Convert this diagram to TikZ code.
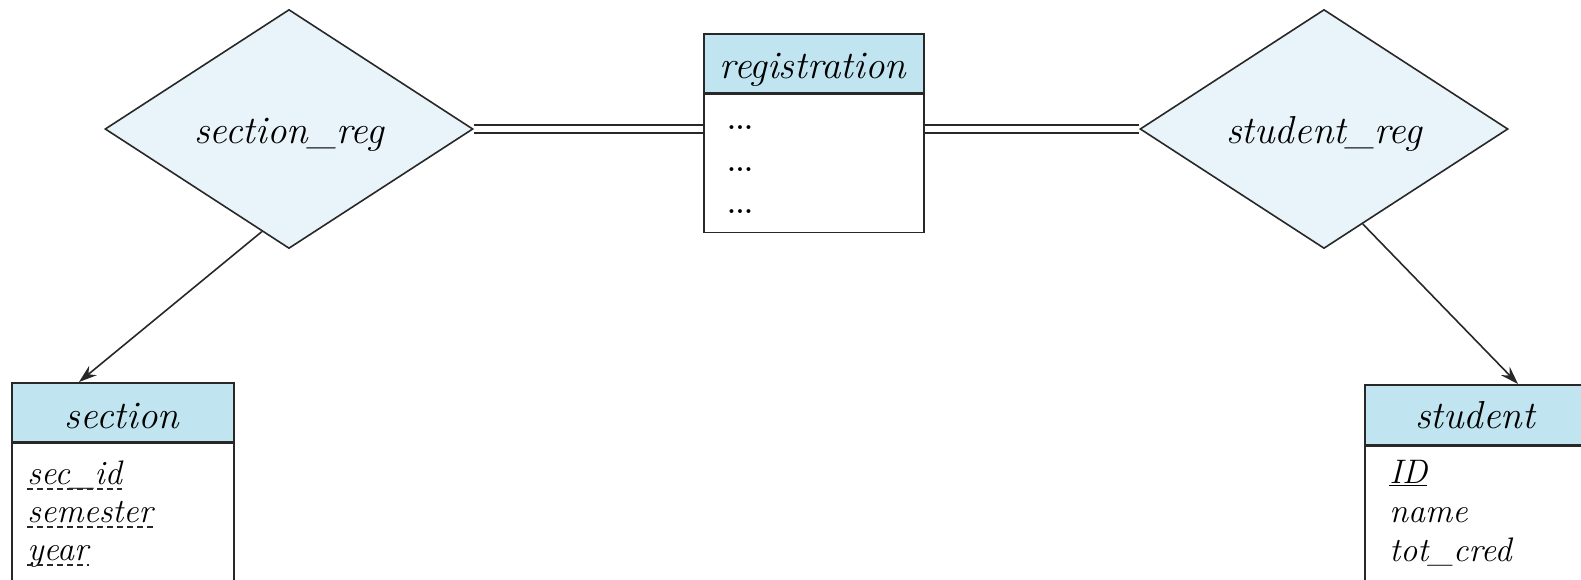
\documentclass[tikz,border=0pt]{standalone}
\usetikzlibrary{shapes.geometric,arrows.meta,calc}
\definecolor{hdr}{RGB}{192,229,240}
\definecolor{dia}{RGB}{232,244,249}
\definecolor{edge}{RGB}{40,40,40}
\begin{document}
\begin{tikzpicture}[x=0.5pt,y=-0.5pt,
  box/.style={draw=edge,line width=0.8pt,rectangle,inner sep=0pt,anchor=north west},
  hdrbox/.style={box,fill=hdr},
  bodybox/.style={box,fill=white},
  rel/.style={draw=edge,line width=0.8pt,diamond,fill=dia,inner sep=0pt,minimum width=184pt,minimum height=119.5pt},
  title/.style={inner sep=0pt,anchor=base,font=\fontsize{19.5}{23}\selectfont\itshape},
  attr/.style={inner sep=0pt,anchor=base west,font=\fontsize{17}{21}\selectfont\itshape},
  dots/.style={inner sep=0pt,anchor=base west,font=\fontsize{13.5}{16}\selectfont\bfseries},
  conn/.style={draw=edge,line width=0.8pt},
  dbl/.style={draw=edge,line width=0.8pt,double=white,double distance=3pt},
  arr/.style={conn,-{Stealth[length=9pt,width=6pt]}},
  pdash/.style={draw=edge,line width=0.6pt,dash pattern=on 3pt off 2pt}
]
\useasboundingbox (0,0) rectangle (1581,579);
\clip (0,0) rectangle (1581,579);

% relationship diamonds
\node[rel] (sr) at (289,129) {};
\node[title] (srt) at (289,143) {section\_reg};
\node[rel] (str) at (1324,129) {};
\node[title] (strt) at (1324,143) {student\_reg};

% registration entity
\node[hdrbox,minimum width=110pt,minimum height=29.5pt] (regh) at (703,33) {};
\node[bodybox,minimum width=110pt,minimum height=69pt] (regb) at (regh.south west) {};
\node[title] (regt) at (813,78) {registration};
\node[dots] (d1) at (727,129) {...};
\node[dots] (d2) at (727,171) {...};
\node[dots] (d3) at (727,213) {...};

% section entity
\node[hdrbox,minimum width=111pt,minimum height=29.5pt] (sech) at (11,382) {};
\node[bodybox,minimum width=111pt,minimum height=100pt] (secb) at (sech.south west) {};
\node[title] (sect) at (122,428) {section};
\node[attr] (s1) at (27,484) {sec\_id};
\node[attr] (s2) at (27,522) {semester};
\node[attr] (s3) at (27,560) {year};
\foreach \n in {s1,s2,s3}{
  \draw[pdash] ([yshift=-2.5pt]\n.base west) -- ([yshift=-2.5pt]\n.base east);
}

% student entity
\node[hdrbox,minimum width=111pt,minimum height=30pt] (stuh) at (1364,384) {};
\node[bodybox,minimum width=111pt,minimum height=100pt] (stub) at (stuh.south west) {};
\node[title] (stut) at (1475,428) {student};
\node[attr] (t1) at (1389,483) {\underline{ID}};
\node[attr] (t2) at (1389,522) {name};
\node[attr] (t3) at (1389,561) {tot\_cred};

% connectors
\draw[dbl] (sr.east) -- (sr.east -| regb.west);
\draw[dbl] (str.west -| regb.east) -- (str.west);
\draw[arr] ($(sr.west)!0.853!(sr.south)$) -- ([xshift=34pt]sech.north west);
\draw[arr] ($(str.south)!0.21!(str.east)$) -- ([xshift=77pt]stuh.north west);
\end{tikzpicture}
\end{document}
